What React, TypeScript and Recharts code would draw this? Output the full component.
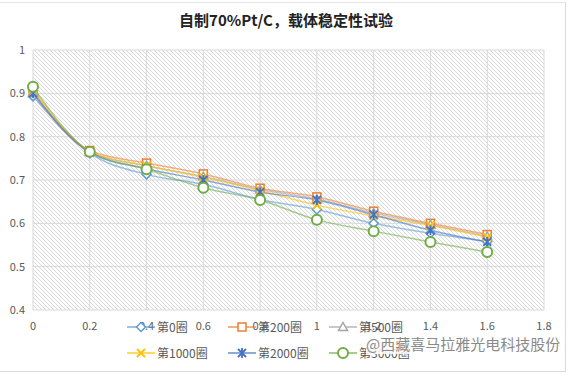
import React from "react";
import { LineChart, Line, XAxis, YAxis, CartesianGrid } from "recharts";

const TITLE = "自制70%Pt/C，载体稳定性试验";
const WATERMARK = "@西藏喜马拉雅光电科技股份";

const xs = [0, 0.2, 0.4, 0.6, 0.8, 1.0, 1.2, 1.4, 1.6];
const xTicks = [0, 0.2, 0.4, 0.6, 0.8, 1, 1.2, 1.4, 1.6, 1.8];
const yTicks = [0.4, 0.5, 0.6, 0.7, 0.8, 0.9, 1];

const c0 = [0.893, 0.762, 0.713, 0.69, 0.655, 0.632, 0.6, 0.577, 0.558];
const c200 = [0.905, 0.768, 0.739, 0.714, 0.681, 0.661, 0.628, 0.6, 0.574];
const c500 = [0.9, 0.765, 0.733, 0.708, 0.678, 0.656, 0.624, 0.597, 0.57];
const c1000 = [0.91, 0.766, 0.733, 0.706, 0.676, 0.642, 0.617, 0.595, 0.568];
const c2000 = [0.9, 0.764, 0.726, 0.7, 0.672, 0.654, 0.62, 0.584, 0.557];
const c3000 = [0.915, 0.765, 0.725, 0.682, 0.654, 0.608, 0.582, 0.557, 0.534];

const seriesNames = ["第0圈", "第200圈", "第500圈", "第1000圈", "第2000圈", "第3000圈"];
const seriesValues = [c0, c200, c500, c1000, c2000, c3000];
const colors = ["#5B9BD5", "#ED7D31", "#A5A5A5", "#FFC000", "#4472C4", "#70AD47"];
const shapes = ["diamond", "square", "triangle", "x", "star", "circle"];

const data = xs.map((x, i) => {
  const row: Record<string, number> = { x };
  seriesNames.forEach((n, k) => (row[n] = seriesValues[k][i]));
  return row;
});

const AXIS = "#595959";
const GRID = "#d9d9d9";

function Marker({ shape, color, cx, cy }: { shape: string; color: string; cx: number; cy: number }) {
  switch (shape) {
    case "diamond":
      return <path d={`M${cx},${cy - 4.5} L${cx + 4.5},${cy} L${cx},${cy + 4.5} L${cx - 4.5},${cy} Z`} fill="#fff" stroke={color} strokeWidth={1.5} />;
    case "square":
      return <rect x={cx - 4} y={cy - 4} width={8} height={8} fill="#fff" stroke={color} strokeWidth={1.5} />;
    case "triangle":
      return <path d={`M${cx},${cy - 4.5} L${cx + 4.5},${cy + 3.5} L${cx - 4.5},${cy + 3.5} Z`} fill="#fff" stroke={color} strokeWidth={1.5} />;
    case "x":
      return <path d={`M${cx - 4},${cy - 4} L${cx + 4},${cy + 4} M${cx + 4},${cy - 4} L${cx - 4},${cy + 4}`} stroke={color} strokeWidth={1.8} />;
    case "star":
      return (
        <path
          d={`M${cx - 4},${cy - 4} L${cx + 4},${cy + 4} M${cx + 4},${cy - 4} L${cx - 4},${cy + 4} M${cx},${cy - 5} L${cx},${cy + 5}`}
          stroke={color}
          strokeWidth={1.8}
        />
      );
    default:
      return <circle cx={cx} cy={cy} r={5} fill="#fff" stroke={color} strokeWidth={2} />;
  }
}

function LegendBox() {
  return (
    <div style={{ position: "absolute", left: 0, top: 318, width: 572, height: 56 }}>
      {seriesNames.map((n, i) => {
        const col = i % 3;
        const row = Math.floor(i / 3);
        return (
          <div
            key={n}
            style={{
              position: "absolute",
              left: 126 + col * 101,
              top: row * 26,
              display: "flex",
              alignItems: "center",
              fontSize: 12,
              color: AXIS,
            }}
          >
            <svg width={30} height={12}>
              <line x1={1} y1={6} x2={29} y2={6} stroke={colors[i]} strokeWidth={1.5} opacity={0.8} />
              <Marker shape={shapes[i]} color={colors[i]} cx={15} cy={6} />
            </svg>
            <span style={{ marginLeft: 1 }}>{n}</span>
          </div>
        );
      })}
      <div
        style={{
          position: "absolute",
          left: 366,
          top: 15,
          fontSize: 15,
          color: "#8a8a8a",
          background: "rgba(255,255,255,0.85)",
          whiteSpace: "nowrap",
        }}
      >
        {WATERMARK}
      </div>
    </div>
  );
}

export default function App() {
  return (
    <div
      style={{
        position: "absolute",
        left: 0,
        top: 0,
        width: 572,
        height: 376,
        background: "#fff",
        fontFamily: "'Noto Sans CJK SC', sans-serif",
      }}
    >
      <div
        style={{
          position: "absolute",
          left: 0,
          top: 2,
          width: 565,
          height: 368,
          borderRight: "1px solid #d9d9d9",
          borderBottom: "1px solid #d9d9d9",
          borderTop: "1px solid #e6e6e6",
        }}
      />
      <div
        style={{
          position: "absolute",
          top: 9,
          width: 572,
          textAlign: "center",
          fontSize: 15,
          fontWeight: "bold",
          color: "#222",
        }}
      >
        {TITLE}
      </div>
      <LineChart width={572} height={376} data={data} margin={{ top: 50, right: 28, bottom: 46, left: 5 }}>
        <defs>
          <pattern id="hatch" width={4} height={4} patternUnits="userSpaceOnUse">
            <path d="M-1,-1 L5,5 M3,-1 L5,1 M-1,3 L1,5" stroke="#cfcfcf" strokeWidth={0.8} />
          </pattern>
        </defs>
        <CartesianGrid stroke={GRID} fill="url(#hatch)" fillOpacity={1} />
        <XAxis
          dataKey="x"
          type="number"
          domain={[0, 1.8]}
          ticks={xTicks}
          tickFormatter={(v) => String(v)}
          tick={{ fill: AXIS, fontSize: 11 }}
          tickLine={false}
          axisLine={false}
          height={20}
          tickMargin={6}
        />
        <YAxis
          type="number"
          domain={[0.4, 1]}
          ticks={yTicks}
          tickFormatter={(v) => String(v)}
          tick={{ fill: AXIS, fontSize: 11 }}
          tickLine={false}
          axisLine={false}
          width={28}
        />
        {seriesNames.map((n, i) => (
          <Line
            key={n}
            dataKey={n}
            type="monotone"
            stroke={colors[i]}
            strokeWidth={1.5}
            strokeOpacity={0.6}
            isAnimationActive={false}
            dot={(p: any) => <Marker key={`${n}-${p.index}`} shape={shapes[i]} color={colors[i]} cx={p.cx} cy={p.cy} />}
            activeDot={false}
          />
        ))}
      </LineChart>
      <LegendBox />
    </div>
  );
}
